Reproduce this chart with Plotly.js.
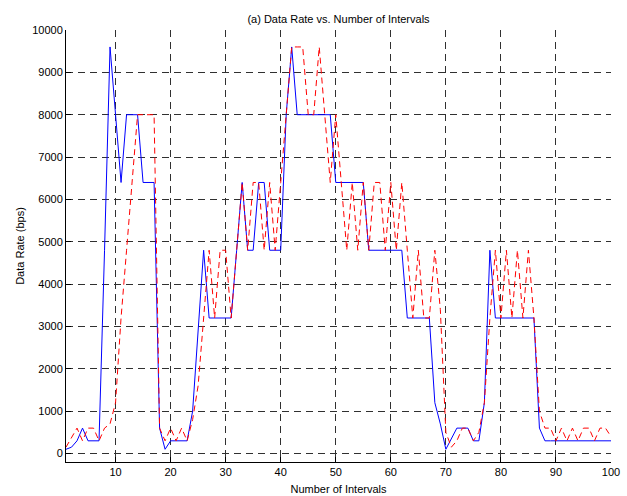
<!DOCTYPE html>
<html>
<head>
<meta charset="utf-8">
<script src="https://cdn.plot.ly/plotly-3.0.1.min.js"></script>
<style>
  html, body { margin: 0; padding: 0; background: #fff; }
  #chart { width: 627px; height: 496px; }
</style>
</head>
<body>
<div id="chart"></div>
<script>
// Interval index 1..100
const intervals = Array.from({length: 100}, (_, i) => i + 1);

// Blue solid series (bps)
const blueRate = [
  100, 150, 300, 600, 300, 300, 300, 4800, 9600, 8000,
  6400, 8000, 8000, 8000, 6400, 6400, 6400, 600, 100, 300,
  300, 300, 300, 1000, 3000, 4800, 3200, 3200, 3200, 3200,
  3200, 4800, 6400, 4800, 4800, 6400, 6400, 4800, 4800, 4800,
  8000, 9600, 8000, 8000, 8000, 8000, 8000, 8000, 8000, 6400,
  6400, 6400, 6400, 6400, 6400, 4800, 4800, 4800, 4800, 4800,
  4800, 4800, 3200, 3200, 3200, 3200, 3200, 1200, 700, 100,
  350, 600, 600, 600, 300, 300, 1200, 4800, 3200, 3200,
  3200, 3200, 3200, 3200, 3200, 3200, 600, 300, 300, 300,
  300, 300, 300, 300, 300, 300, 300, 300, 300, 300
];

// Red dashed series (bps)
const redRate = [
  150, 380, 600, 300, 600, 600, 300, 600, 700, 1200,
  3200, 4800, 6400, 8000, 8000, 8000, 8000, 600, 300, 600,
  300, 600, 300, 800, 1600, 3200, 4800, 3200, 4800, 4800,
  3200, 4800, 6400, 4800, 6400, 6400, 4800, 6400, 4800, 6400,
  8000, 9600, 9600, 9600, 8000, 8000, 9600, 8000, 6400, 8000,
  6400, 4800, 6400, 4800, 6400, 4800, 6400, 6400, 4800, 6400,
  4800, 6400, 4800, 3200, 4800, 3200, 3200, 4800, 3400, 500,
  150, 300, 600, 600, 300, 500, 1200, 3200, 4800, 3200,
  4800, 3200, 4800, 3200, 4800, 3200, 1000, 600, 600, 300,
  600, 300, 600, 300, 600, 600, 300, 600, 600, 400
];

const xTicks = [10, 20, 30, 40, 50, 60, 70, 80, 90, 100];
const yTicks = [0, 1000, 2000, 3000, 4000, 5000, 6000, 7000, 8000, 9000, 10000];

const FONT = '"Liberation Sans", Arial, Helvetica, sans-serif';

const traces = [
  {
    x: intervals, y: blueRate, type: 'scatter', mode: 'lines',
    line: {color: '#0000FF', width: 1},
    hoverinfo: 'skip', showlegend: false
  },
  {
    x: intervals, y: redRate, type: 'scatter', mode: 'lines',
    line: {color: '#FF0000', width: 1, dash: '6px,4px'},
    hoverinfo: 'skip', showlegend: false
  }
];

const axisCommon = {
  showline: true, linecolor: '#000', linewidth: 1,
  ticks: 'inside', ticklen: 5, tickcolor: '#000', tickwidth: 1,
  showgrid: true, gridcolor: '#303030', gridwidth: 1, griddash: '7px,5px',
  zeroline: false, mirror: false,
  tickfont: {family: FONT, size: 11, color: '#000'},
  fixedrange: true
};

const layout = {
  width: 627, height: 496,
  margin: {l: 66, r: 16, t: 30, b: 34, pad: 0},
  paper_bgcolor: '#fff', plot_bgcolor: '#fff',
  font: {family: FONT, size: 11, color: '#000'},
  title: {
    text: '(a) Data Rate vs. Number of Intervals',
    font: {family: FONT, size: 11, color: '#000'},
    x: 0.5, xref: 'paper', xanchor: 'center',
    y: 1 - 19 / 496, yref: 'container', yanchor: 'middle'
  },
  xaxis: Object.assign({}, axisCommon, {
    range: [1, 100], tickmode: 'array', tickvals: xTicks,
    ticktext: xTicks.map(String),
    title: {text: 'Number of Intervals', font: {family: FONT, size: 11, color: '#000'}, standoff: 8}
  }),
  yaxis: Object.assign({}, axisCommon, {
    range: [-200, 10000], tickmode: 'array', tickvals: yTicks,
    ticktext: yTicks.map(String),
    title: {text: 'Data Rate (bps)', font: {family: FONT, size: 11, color: '#000'}, standoff: 5}
  }),
  showlegend: false
};

Plotly.newPlot('chart', traces, layout, {displayModeBar: false, staticPlot: true});
</script>
</body>
</html>
